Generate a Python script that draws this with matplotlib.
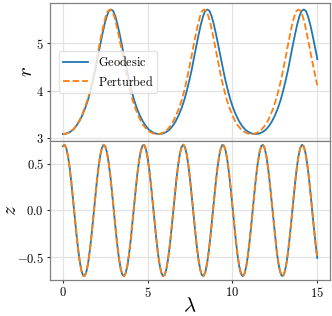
import numpy as np
import matplotlib
matplotlib.use("Agg")
import matplotlib.pyplot as plt
from matplotlib.ticker import FuncFormatter

plt.rcParams.update({
    "font.family": "serif", "mathtext.fontset": "cm", "font.size": 9,
    "axes.edgecolor": "#808080", "axes.linewidth": 0.9,
    "xtick.major.size": 2.5, "ytick.major.size": 2.5,
    "xtick.major.width": 0.8, "ytick.major.width": 0.8,
})

# radial coordinate r(lambda)
lam_r_geo = [0.00, 0.20, 0.40, 0.60, 0.79, 0.97, 1.15, 1.32, 1.48, 1.63, 1.78, 1.93, 2.06, 2.20, 2.33,
             2.46, 2.59, 2.71, 2.84, 2.97, 3.09, 3.22, 3.35, 3.48, 3.62, 3.76, 3.90, 4.05, 4.20, 4.36,
             4.53, 4.71, 4.89, 5.08, 5.28, 5.48, 5.68,
             5.88, 6.08, 6.28, 6.47, 6.65, 6.83, 7.00, 7.16, 7.31, 7.46, 7.61, 7.74, 7.88, 8.01, 8.14,
             8.27, 8.39, 8.52, 8.65, 8.77, 8.90, 9.03, 9.16, 9.30, 9.44, 9.58, 9.73, 9.88, 10.04, 10.21,
             10.39, 10.57, 10.76, 10.96, 11.16, 11.36,
             11.56, 11.76, 11.96, 12.15, 12.33, 12.51, 12.68, 12.84, 12.99, 13.14, 13.29, 13.42, 13.56,
             13.69, 13.82, 13.95, 14.07, 14.20, 14.33, 14.45, 14.58, 14.71, 14.84, 14.98, 15.00]
r_geo = [3.08, 3.09, 3.12, 3.17, 3.25, 3.35, 3.48, 3.63, 3.80, 4.00, 4.22, 4.46, 4.71, 4.96, 5.19,
         5.40, 5.57, 5.68, 5.71, 5.68, 5.57, 5.40, 5.19, 4.96, 4.71, 4.46, 4.22, 4.00, 3.80, 3.63,
         3.48, 3.35, 3.25, 3.17, 3.12, 3.09, 3.08,
         3.09, 3.12, 3.17, 3.25, 3.35, 3.48, 3.63, 3.80, 4.00, 4.22, 4.46, 4.71, 4.96, 5.19, 5.40,
         5.57, 5.68, 5.71, 5.68, 5.57, 5.40, 5.19, 4.96, 4.71, 4.46, 4.22, 4.00, 3.80, 3.63, 3.48,
         3.35, 3.25, 3.17, 3.12, 3.09, 3.08,
         3.09, 3.12, 3.17, 3.25, 3.35, 3.48, 3.63, 3.80, 4.00, 4.22, 4.46, 4.71, 4.96,
         5.19, 5.40, 5.57, 5.68, 5.71, 5.68, 5.57, 5.40, 5.19, 4.96, 4.71, 4.66]

lam_r_pert = [0.00, 0.20, 0.40, 0.59, 0.77, 0.95, 1.13, 1.29, 1.45, 1.60, 1.74, 1.88, 2.02, 2.15, 2.28,
              2.41, 2.53, 2.66, 2.78, 2.90, 3.03, 3.15, 3.28, 3.41, 3.54, 3.67, 3.81, 3.96, 4.11, 4.27,
              4.43, 4.61, 4.78, 4.97, 5.16, 5.36, 5.56,
              5.76, 5.95, 6.15, 6.33, 6.51, 6.68, 6.85, 7.01, 7.16, 7.30, 7.44, 7.58, 7.71, 7.84, 7.97,
              8.09, 8.21, 8.34, 8.46, 8.58, 8.71, 8.84, 8.96, 9.10, 9.23, 9.37, 9.52, 9.67, 9.83, 9.99,
              10.16, 10.34, 10.53, 10.72, 10.92, 11.12,
              11.31, 11.51, 11.70, 11.89, 12.07, 12.24, 12.41, 12.56, 12.71, 12.86, 13.00, 13.14, 13.27,
              13.40, 13.52, 13.65, 13.77, 13.89, 14.02, 14.14, 14.27, 14.39, 14.52, 14.65, 14.79, 14.93,
              15.00]
r_pert = [3.08, 3.09, 3.12, 3.17, 3.25, 3.35, 3.48, 3.63, 3.80, 4.00, 4.22, 4.46, 4.71, 4.96, 5.19,
          5.40, 5.57, 5.68, 5.71, 5.68, 5.57, 5.40, 5.19, 4.96, 4.71, 4.46, 4.22, 4.00, 3.80, 3.63,
          3.48, 3.35, 3.25, 3.17, 3.12, 3.09, 3.08,
          3.09, 3.12, 3.17, 3.25, 3.35, 3.48, 3.63, 3.80, 4.00, 4.22, 4.46, 4.71, 4.96, 5.19, 5.40,
          5.57, 5.68, 5.71, 5.68, 5.57, 5.40, 5.19, 4.96, 4.71, 4.46, 4.22, 4.00, 3.80, 3.63, 3.48,
          3.35, 3.25, 3.17, 3.12, 3.09, 3.08,
          3.09, 3.12, 3.17, 3.25, 3.35, 3.48, 3.63, 3.80, 4.00, 4.22, 4.46, 4.71, 4.96,
          5.19, 5.40, 5.57, 5.68, 5.71, 5.68, 5.57, 5.40, 5.19, 4.96, 4.71, 4.46, 4.22,
          4.11]

# polar coordinate z(lambda), sampled every 0.1 in lambda
lam_z = np.linspace(0, 15, 151)
z_geo = [0.689, 0.704, 0.669, 0.585, 0.460, 0.302, 0.122, -0.067, -0.250, -0.416,
         -0.552, -0.649, -0.699, -0.699, -0.648, -0.551, -0.415, -0.249, -0.065, 0.124,
         0.303, 0.461, 0.586, 0.669, 0.704, 0.688, 0.623, 0.514, 0.367, 0.194,
         0.007, -0.180, -0.354, -0.503, -0.616, -0.685, -0.705, -0.674, -0.595, -0.473,
         -0.317, -0.138, 0.050, 0.235, 0.403, 0.542, 0.642, 0.696, 0.701, 0.655,
         0.562, 0.428, 0.264, 0.082, -0.107, -0.288, -0.449, -0.577, -0.664, -0.703,
         -0.692, -0.631, -0.525, -0.381, -0.210, -0.024, 0.164, 0.340, 0.491, 0.608,
         0.681, 0.705, 0.678, 0.603, 0.485, 0.332, 0.155, -0.033, -0.219, -0.389,
         -0.531, -0.635, -0.694, -0.702, -0.661, -0.571, -0.441, -0.280, -0.098, 0.091,
         0.273, 0.436, 0.567, 0.658, 0.702, 0.695, 0.638, 0.536, 0.395, 0.226,
         0.041, -0.148, -0.325, -0.480, -0.600, -0.676, -0.705, -0.683, -0.612, -0.497,
         -0.346, -0.171, 0.017, 0.203, 0.375, 0.520, 0.628, 0.690, 0.704, 0.666,
         0.581, 0.454, 0.295, 0.114, -0.074, -0.258, -0.423, -0.557, -0.652, -0.700,
         -0.697, -0.645, -0.547, -0.409, -0.242, -0.057, 0.131, 0.310, 0.467, 0.591,
         0.672, 0.704, 0.687, 0.620, 0.509, 0.361, 0.187, 0.000, -0.187, -0.361,
         -0.509]
# the two z curves coincide at this resolution
z_pert = list(z_geo)

BLUE, ORANGE = "#1f77b4", "#ff7f0e"

fig = plt.figure(figsize=(3.32, 3.16), dpi=100)
ax1 = fig.add_axes([0.151, 0.554, 0.843, 0.4375])
ax2 = fig.add_axes([0.151, 0.114, 0.843, 0.440], sharex=ax1)

ax1.plot(lam_r_geo, r_geo, color=BLUE, lw=1.3, label=r"$\mathrm{Geodesic}$")
ax1.plot(lam_r_pert, r_pert, color=ORANGE, lw=1.3, ls="--", label=r"$\mathrm{Perturbed}$")
ax2.plot(lam_z, z_geo, color=BLUE, lw=1.3)
ax2.plot(lam_z, z_pert, color=ORANGE, lw=1.3, ls="--")

for ax in (ax1, ax2):
    ax.grid(True, color="#e3e3e3", lw=0.9)
    ax.set_axisbelow(True)
    ax.tick_params(colors="#333333", labelcolor="black", pad=2)

ax1.set_xlim(-0.75, 15.75)
ax1.set_ylim(2.935, 5.855)
ax2.set_ylim(-0.745, 0.745)
ax1.set_yticks([3, 4, 5])
ax2.set_yticks([-0.5, 0.0, 0.5])
ax2.set_xticks([0, 5, 10, 15])
ax1.tick_params(labelbottom=False, bottom=False)

ax1.yaxis.set_major_formatter(FuncFormatter(lambda v, p: f"${v:.0f}$"))
ax2.yaxis.set_major_formatter(FuncFormatter(lambda v, p: f"${v:.1f}$"))
ax2.xaxis.set_major_formatter(FuncFormatter(lambda v, p: f"${v:.0f}$"))

ax1.set_ylabel(r"$r$", fontsize=15)
ax2.set_ylabel(r"$z$", fontsize=14)
ax2.set_xlabel(r"$\lambda$", fontsize=15)
ax1.yaxis.set_label_coords(-0.05, 0.5)
ax2.yaxis.set_label_coords(-0.108, 0.5)
ax2.xaxis.set_label_coords(0.5, -0.115)

ax1.legend(loc="center left", fontsize=8.8, framealpha=0.8, edgecolor="#dddddd",
           borderpad=0.35, handlelength=2.0, labelspacing=0.45,
           bbox_to_anchor=(0.01, 0.5))

fig.savefig("out.png", dpi=100)
